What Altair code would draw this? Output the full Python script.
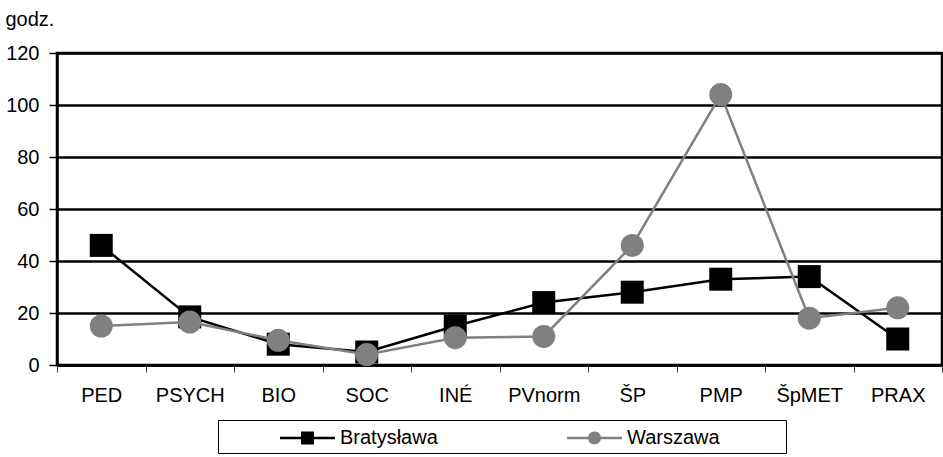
import altair as alt
import pandas as pd

categories = ["PED", "PSYCH", "BIO", "SOC", "INÉ", "PVnorm", "ŠP", "PMP", "ŠpMET", "PRAX"]
bratyslawa = [46, 18.5, 8, 5, 15, 24, 28, 33, 34, 10]
warszawa = [15, 16.5, 9.5, 4, 10.5, 11, 46, 104, 18, 22]
series_names = ["Bratysława", "Warszawa"]
series_colors = ["#000000", "#808080"]
y_ticks = [0, 20, 40, 60, 80, 100, 120]

rows = []
for name, vals in zip(series_names, [bratyslawa, warszawa]):
    for c, v in zip(categories, vals):
        rows.append({"kat": c, "godz": v, "seria": name})
df = pd.DataFrame(rows)

FONT = "Liberation Sans"

# legend symbols (unit = 13 px): a line with the marker in its middle,
# drawn to the right of the nominal symbol box
sym_square = ("M3.385,-0.096 L7.615,-0.096 L7.615,0.096 L3.385,0.096 Z "
              "M5.0,-0.5 L6.0,-0.5 L6.0,0.5 L5.0,0.5 Z")
sym_circle = ("M3.385,-0.096 L7.615,-0.096 L7.615,0.096 L3.385,0.096 Z "
              "M5.0,0 A0.5,0.5 0 1,1 6.0,0 A0.5,0.5 0 1,1 5.0,0 Z "
              "M19.77,-0.01 L19.77,0.01 Z")

x_enc = alt.X(
    "kat:N",
    sort=categories,
    scale=alt.Scale(type="band", paddingInner=0, paddingOuter=0),
    axis=alt.Axis(
        title=None, labelAngle=0, tickBand="extent", tickSize=7,
        tickColor="#404040", tickWidth=1, domainColor="black", domainWidth=2.5,
        labelFont=FONT, labelFontSize=20, labelColor="black", labelPadding=13,
        grid=False,
    ),
)
y_scale = alt.Scale(domain=[0, 120], nice=False, zero=True)
y_axis = alt.Axis(
    values=y_ticks, title="godz.", titleAngle=0, titleAlign="left",
    titleBaseline="alphabetic", titleX=-52, titleY=-28,
    titleFont=FONT, titleFontSize=20, titleFontWeight="normal", titleColor="black",
    tickSize=8, tickColor="black", tickWidth=1.5,
    domainColor="black", domainWidth=2.5,
    grid=True, gridColor="black", gridWidth=2.5, gridOpacity=1,
    labelFont=FONT, labelFontSize=20, labelColor="black", labelPadding=10,
)
y_enc = alt.Y("godz:Q", scale=y_scale, axis=y_axis)

base = alt.Chart(df)

layers = []
for name, col, shape in zip(series_names, series_colors, ["square", "circle"]):
    sub = base.transform_filter(alt.datum.seria == name)
    layers.append(
        sub.mark_line(color=col, strokeWidth=2.5).encode(x=x_enc, y=y_enc)
    )
    layers.append(
        sub.mark_point(filled=True, shape=shape, size=529, color=col, opacity=1).encode(x=x_enc, y=y_enc)
    )

# legend-only layer: its points sit outside the plot and are clipped away
legend_layer = base.transform_calculate(hide="-1000").mark_point(
    filled=True, clip=True, opacity=1
).encode(
    x=x_enc,
    y=alt.Y("hide:Q", scale=y_scale, axis=y_axis),
    color=alt.Color(
        "seria:N",
        scale=alt.Scale(domain=series_names, range=series_colors),
        legend=alt.Legend(
            title=None, orient="none", legendX=161, legendY=367,
            direction="horizontal", columns=2, columnPadding=72,
            padding=5, strokeColor="black", fillColor="white",
            symbolSize=676, labelOffset=91,
            symbolStrokeWidth=0, symbolOpacity=1,
            labelFont=FONT, labelFontSize=20, labelColor="black",
        ),
    ),
    shape=alt.Shape(
        "seria:N",
        scale=alt.Scale(domain=series_names, range=[sym_square, sym_circle]),
    ),
)

chart = alt.layer(*layers, legend_layer).properties(
    width=885,
    height=312,
    autosize=alt.AutoSizeParams(type="none"),
    padding={"left": 57, "top": 53, "right": 1, "bottom": 92},
    background="white",
).configure_view(stroke="black", strokeWidth=2.5)

chart.save("out.html", embed_options={"renderer": "svg", "actions": False})
